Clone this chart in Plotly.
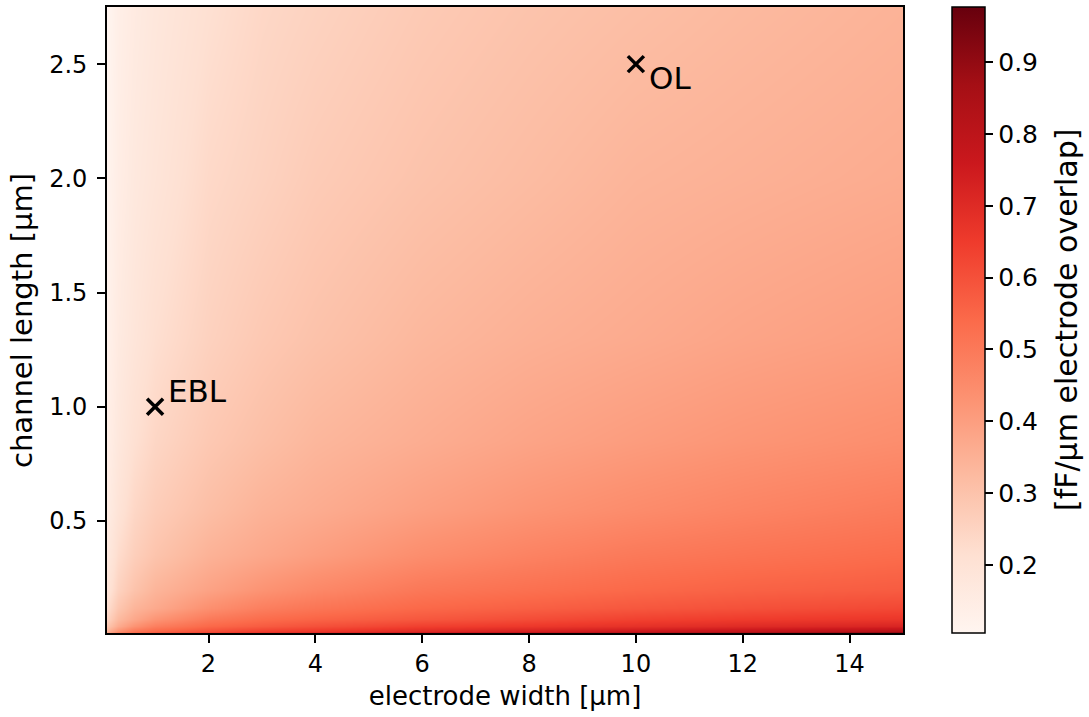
import plotly.graph_objects as go

# electrode width [µm] (columns) and channel length [µm] (rows)
width_um = [0.1, 0.3, 0.6, 1, 2, 3, 4, 6, 8, 10, 12, 15]
length_um = [0.01, 0.02, 0.04, 0.07, 0.12, 0.2, 0.35, 0.55, 0.85, 1.3, 2.0, 2.75]

# capacitance [fF/µm electrode overlap], one list per channel length
c_L001 = [0.390, 0.505, 0.560, 0.600, 0.660, 0.700, 0.730, 0.785, 0.830, 0.870, 0.910, 0.975]
c_L002 = [0.340, 0.430, 0.505, 0.545, 0.600, 0.640, 0.660, 0.700, 0.730, 0.760, 0.785, 0.820]
c_L004 = [0.290, 0.365, 0.430, 0.485, 0.545, 0.575, 0.600, 0.640, 0.660, 0.680, 0.700, 0.720]
c_L007 = [0.250, 0.325, 0.375, 0.425, 0.500, 0.535, 0.555, 0.585, 0.610, 0.635, 0.650, 0.665]
c_L012 = [0.220, 0.290, 0.340, 0.370, 0.440, 0.485, 0.510, 0.545, 0.565, 0.585, 0.600, 0.620]
c_L020 = [0.190, 0.255, 0.300, 0.340, 0.390, 0.430, 0.460, 0.505, 0.525, 0.545, 0.560, 0.575]
c_L035 = [0.168, 0.225, 0.265, 0.297, 0.347, 0.375, 0.400, 0.445, 0.475, 0.500, 0.515, 0.535]
c_L055 = [0.151, 0.195, 0.240, 0.270, 0.313, 0.345, 0.363, 0.398, 0.427, 0.450, 0.470, 0.495]
c_L085 = [0.139, 0.175, 0.212, 0.243, 0.284, 0.311, 0.334, 0.360, 0.385, 0.405, 0.423, 0.445]
c_L130 = [0.126, 0.160, 0.187, 0.216, 0.257, 0.283, 0.302, 0.332, 0.352, 0.367, 0.383, 0.402]
c_L200 = [0.115, 0.145, 0.170, 0.190, 0.235, 0.255, 0.275, 0.300, 0.320, 0.340, 0.350, 0.365]
c_L275 = [0.105, 0.137, 0.158, 0.177, 0.213, 0.239, 0.253, 0.279, 0.298, 0.313, 0.327, 0.345]

cap_rows = [c_L001, c_L002, c_L004, c_L007, c_L012, c_L020,
            c_L035, c_L055, c_L085, c_L130, c_L200, c_L275]

# marked processes
proc_names = ["EBL", "OL"]
proc_width = [1, 10]
proc_length = [1.0, 2.5]

x_ticks = [2, 4, 6, 8, 10, 12, 14]
y_ticks = [0.5, 1.0, 1.5, 2.0, 2.5]
cb_ticks = [0.2, 0.3, 0.4, 0.5, 0.6, 0.7, 0.8, 0.9]

reds = [[0.0, "#fff5f0"], [0.125, "#fee0d2"], [0.25, "#fcbba1"], [0.375, "#fc9272"],
        [0.5, "#fb6a4a"], [0.625, "#ef3b2c"], [0.75, "#cb181d"], [0.875, "#a50f15"],
        [1.0, "#67000d"]]

FONT = "DejaVu Sans"

fig = go.Figure()
fig.add_trace(go.Heatmap(
    x=width_um, y=length_um, z=cap_rows,
    colorscale=reds, zmin=0.105, zmax=0.977, zsmooth="best",
    hoverinfo="skip",
    colorbar=dict(
        x=1.0616, xanchor="left", xref="paper",
        y=0.5, yanchor="middle", len=1, lenmode="fraction",
        thickness=33, thicknessmode="pixels",
        outlinecolor="black", outlinewidth=1.5,
        ticks="outside", ticklen=8, tickwidth=1.5, tickcolor="black",
        tickvals=cb_ticks, tickformat=".1f", tickprefix="\u2009\u2009",
        tickfont=dict(family=FONT, size=25, color="black"),
        xpad=0, ypad=0,
    ),
))

fig.add_trace(go.Scatter(
    x=proc_width, y=proc_length, mode="markers",
    marker=dict(symbol="x-thin", size=16, line=dict(width=3.5, color="black"), color="black"),
    hoverinfo="skip", showlegend=False,
))

fig.add_annotation(x=proc_width[0], y=proc_length[0], text=proc_names[0], showarrow=False,
                   xanchor="left", yanchor="bottom", xshift=11, yshift=-4,
                   font=dict(family=FONT, size=31, color="black"))
fig.add_annotation(x=proc_width[1], y=proc_length[1], text=proc_names[1], showarrow=False,
                   xanchor="left", yanchor="top", xshift=11, yshift=6,
                   font=dict(family=FONT, size=31, color="black"))

# colorbar label and y-axis label as rotated text
fig.add_annotation(xref="paper", yref="paper", x=1.2048, y=0.5, text="[fF/μm electrode overlap]",
                   textangle=-90, showarrow=False, xanchor="center", yanchor="middle",
                   font=dict(family=FONT, size=30, color="black"))
fig.add_annotation(xref="paper", yref="paper", x=-0.1068, y=0.5, text="channel length [μm]",
                   textangle=-90, showarrow=False, xanchor="center", yanchor="middle",
                   font=dict(family=FONT, size=29, color="black"))

axis_common = dict(showline=True, linecolor="black", linewidth=1.8, mirror=True,
                   ticks="outside", ticklen=8, tickwidth=1.8, tickcolor="black",
                   showgrid=False, zeroline=False,
                   tickfont=dict(family=FONT, size=24, color="black"))

fig.update_xaxes(range=[0.1, 15], tickvals=x_ticks,
                 title=dict(text="electrode width [μm]", standoff=10,
                            font=dict(family=FONT, size=26, color="black")),
                 **axis_common)
fig.update_yaxes(range=[0.01, 2.75], tickvals=y_ticks, tickformat=".1f",
                 ticklabelstandoff=5, **axis_common)

fig.update_layout(
    width=1089, height=717,
    margin=dict(l=107, r=186, t=7, b=84, autoexpand=False),
    paper_bgcolor="white", plot_bgcolor="white",
    showlegend=False,
)

fig.write_html("out.html")
